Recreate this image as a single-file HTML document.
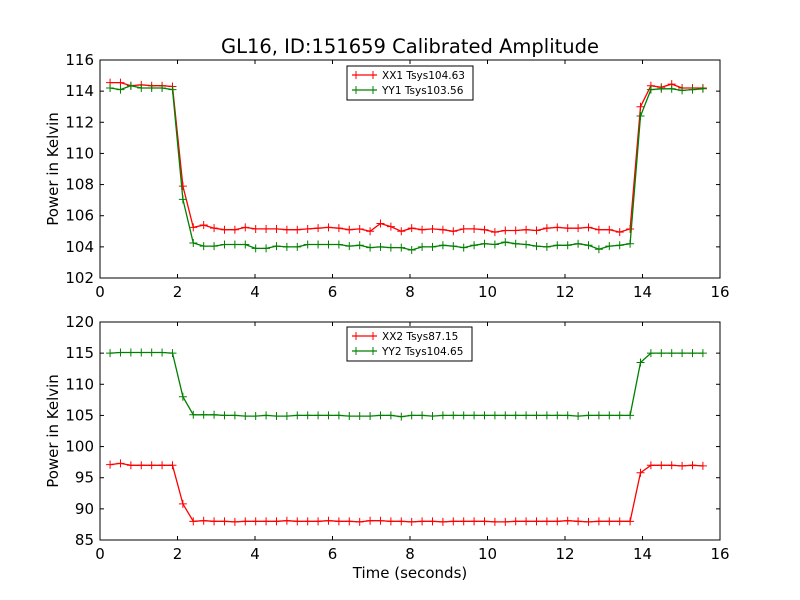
<!DOCTYPE html>
<html><head><meta charset="utf-8"><style>
body{margin:0;background:#fff}
svg{display:block;font-family:"DejaVu Sans","Liberation Sans",sans-serif}
</style></head><body>
<svg id="chart" width="800" height="600" viewBox="0 0 800 600"></svg>
<script>
const times = Array.from({length:58},(_,i)=>0.26+i*0.2684);
const xx1 = [114.55,114.55,114.35,114.4,114.35,114.35,114.3,107.9,105.25,105.4,105.2,105.1,105.1,105.25,105.15,105.15,105.15,105.1,105.1,105.15,105.2,105.25,105.2,105.1,105.15,105.0,105.5,105.3,105.0,105.2,105.1,105.15,105.1,105.0,105.15,105.15,105.1,104.95,105.05,105.05,105.1,105.05,105.2,105.25,105.2,105.2,105.25,105.1,105.1,104.95,105.15,113.0,114.35,114.25,114.45,114.2,114.2,114.2];
const yy1 = [114.2,114.1,114.35,114.2,114.2,114.2,114.1,107.05,104.25,104.05,104.05,104.15,104.15,104.15,103.9,103.9,104.05,104.0,104.0,104.15,104.15,104.15,104.15,104.05,104.1,103.95,104.0,103.95,103.95,103.8,104.0,104.0,104.1,104.05,103.95,104.1,104.2,104.15,104.3,104.2,104.15,104.05,104.0,104.1,104.1,104.2,104.1,103.85,104.05,104.1,104.2,112.4,114.1,114.15,114.15,114.05,114.1,114.15];
const xx2 = [97.1,97.3,97.0,97.0,97.0,97.0,97.0,90.8,88.0,88.1,88.0,88.0,87.9,88.0,88.0,88.0,88.0,88.1,88.0,88.0,88.0,88.1,88.0,88.0,87.9,88.1,88.1,88.0,88.0,87.9,88.0,88.0,87.9,88.0,88.0,88.0,88.0,87.9,87.9,88.0,88.0,88.0,88.0,88.0,88.1,88.0,87.9,88.0,88.0,88.0,88.0,95.8,97.0,97.0,97.0,96.9,97.0,96.9];
const yy2 = [115.0,115.1,115.1,115.1,115.1,115.1,115.0,108.0,105.1,105.1,105.1,105.0,105.0,104.9,104.9,105.0,104.9,104.9,105.0,105.0,105.0,105.0,105.0,104.9,104.9,104.9,105.0,105.0,104.8,105.0,105.0,104.9,105.0,105.0,105.0,105.0,105.0,105.0,105.0,105.0,105.0,105.0,105.0,105.0,105.0,104.9,105.0,105.0,105.0,105.0,105.0,113.5,115.0,115.0,115.0,115.0,115.0,115.0];
const xTicks = [0,2,4,6,8,10,12,14,16];
const yTicksTop = [102,104,106,108,110,112,114,116];
const yTicksBot = [85,90,95,100,105,110,115,120];

const NS='http://www.w3.org/2000/svg';
const svg=document.getElementById('chart');
function el(tag,attrs,parent){const e=document.createElementNS(NS,tag);for(const k in attrs)e.setAttribute(k,attrs[k]);(parent||svg).appendChild(e);return e;}

function panel(name,top,bottom,ymin,ymax,yTicks,series,legend,showXLabel){
  const L=100,R=720;
  const g=el('g',{});
  
  
  const xs=v=>L+(v-0)/(16-0)*(R-L);
  const ys=v=>bottom-(v-ymin)/(ymax-ymin)*(bottom-top);
  el('rect',{x:L,y:top,width:R-L,height:bottom-top,fill:'#fff',stroke:'none'},g);
  xTicks.forEach(t=>{
    const x=xs(t);
    el('line',{x1:x,x2:x,y1:bottom,y2:bottom-4,stroke:'#000'},g);
    el('line',{x1:x,x2:x,y1:top,y2:top+4,stroke:'#000'},g);
    const tx=el('text',{x:x,y:bottom+19,'font-size':15,'text-anchor':'middle'},g);
    tx.textContent=t;
    
    
  });
  yTicks.forEach(t=>{
    const y=ys(t);
    el('line',{x1:L,x2:L+4,y1:y,y2:y,stroke:'#000'},g);
    el('line',{x1:R,x2:R-4,y1:y,y2:y,stroke:'#000'},g);
    const tx=el('text',{x:L-6,y:y+5,'font-size':15,'text-anchor':'end'},g);
    tx.textContent=t;
    
    
  });
  series.forEach(s=>{
    const pts=times.map((t,i)=>xs(t).toFixed(1)+','+ys(s.data[i]).toFixed(1)).join(' ');
    const pl=el('polyline',{points:pts,fill:'none',stroke:s.color,'stroke-width':1.3},g);
    
    
    times.forEach((t,i)=>{
      const x=xs(t),y=ys(s.data[i]);
      const p=el('path',{d:`M${x-4},${y}H${x+4}M${x},${y-4}V${y+4}`,stroke:s.color,'stroke-width':1},g);
      
      
    });
  });
  el('rect',{x:L,y:top,width:R-L,height:bottom-top,fill:'none',stroke:'#000','stroke-width':1},g);
  const lg=el('g',{},g);
  
  
  el('rect',{x:legend.x,y:legend.y,width:legend.w,height:34,fill:'#fff',stroke:'#000','stroke-width':1},lg);
  series.forEach((s,k)=>{
    const y=legend.y+9+k*15;
    el('line',{x1:legend.x+5,x2:legend.x+30,y1:y,y2:y,stroke:s.color,'stroke-width':1.3},lg);
    el('path',{d:`M${legend.x+9},${y-4}V${y+4}M${legend.x+26},${y-4}V${y+4}`,stroke:s.color},lg);
    const tx=el('text',{x:legend.x+35,y:y+4,'font-size':10.5},lg);
    tx.textContent=s.label;
    
    
  });
  const yl=el('text',{x:0,y:0,'font-size':15,'text-anchor':'middle',transform:`translate(58,${(top+bottom)/2}) rotate(-90)`},g);
  yl.textContent='Power in Kelvin';
  
  
  if(showXLabel){
    const xl=el('text',{x:410,y:578,'font-size':15,'text-anchor':'middle'},g);
    xl.textContent='Time (seconds)';
    
    
  }
}
const title=el('text',{x:410,y:53,'font-size':19.5,'text-anchor':'middle'});
title.textContent='GL16, ID:151659 Calibrated Amplitude';


panel('top-panel',60,278,102,116,yTicksTop,[{name:'xx1',data:xx1,color:'#ff0000',label:'XX1 Tsys104.63'},{name:'yy1',data:yy1,color:'#008000',label:'YY1 Tsys103.56'}],{x:347,y:66,w:126},false);
panel('bottom-panel',322,540,85,120,yTicksBot,[{name:'xx2',data:xx2,color:'#ff0000',label:'XX2 Tsys87.15'},{name:'yy2',data:yy2,color:'#008000',label:'YY2 Tsys104.65'}],{x:347,y:327,w:125},true);
</script>
</body></html>
